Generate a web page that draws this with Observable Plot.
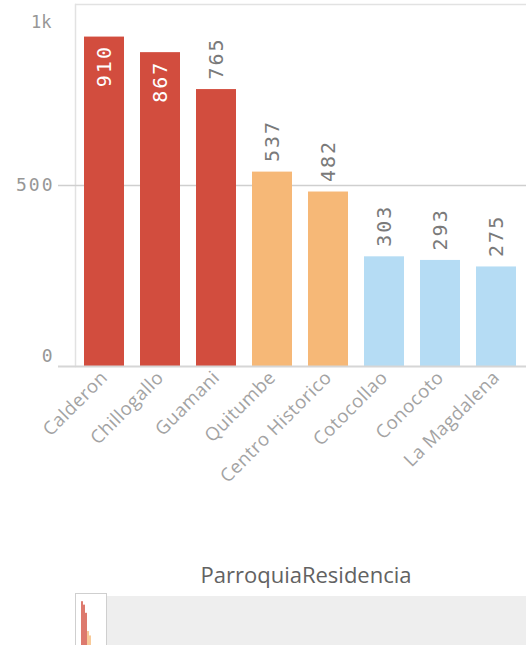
<!DOCTYPE html>
<html>
<head>
<meta charset="utf-8">
<script src="https://cdn.jsdelivr.net/npm/d3@7"></script>
<script src="https://cdn.jsdelivr.net/npm/@observablehq/plot@0.6"></script>
<style>
  html, body { margin: 0; padding: 0; background: #fff; }
  #wrap { position: relative; width: 526px; height: 645px; overflow: hidden; }
  #chart { position: absolute; left: 0; top: 0; }
  #title { position: absolute; left: 75px; width: 462px; top: 559px; text-align: center;
           font-family: "Open Sans", sans-serif; font-size: 22px; color: #626262; }
  #navbg { position: absolute; left: 107px; top: 596px; width: 419px; height: 60px; background: #eeeeee; }
  #navbox { position: absolute; left: 75px; top: 593px; width: 30px; height: 70px; border: 1px solid #cfcfcf; background: #fff; overflow: hidden; }
  #mini { position: absolute; left: 0; top: -4px; }
  #chart g[font-size="20"] text { letter-spacing: 2px; }
  #chart g[font-size="18"] text { letter-spacing: 2px; }
  #chart g[font-size="18.5"] text { letter-spacing: 0.5px; }
</style>
</head>
<body>
<div id="wrap">
  <div id="chart"></div>
  <div id="title">ParroquiaResidencia</div>
  <div id="navbg"></div>
  <div id="navbox"><div id="mini"></div></div>
</div>
<script>
const categories = ["Calderon", "Chillogallo", "Guamani", "Quitumbe", "Centro Historico", "Cotocollao", "Conocoto", "La Magdalena"];
const values = [910, 867, 765, 537, 482, 303, 293, 275];
const groups = ["high", "high", "high", "mid", "mid", "low", "low", "low"];
const groupColors = {high: "#d24d3e", mid: "#f6b877", low: "#b5dcf4"};
const yTicks = [0, 500, 1000];
const yTickLabels = ["0", "500", "1k"];

const data = categories.map((c, i) => ({cat: c, value: values[i], group: groups[i]}));
const ticks = yTicks.map((v, i) => ({v, label: yTickLabels[i]}));
const yMax = 1000;
const mono = "'DejaVu Sans Mono', monospace";
const tickFill = "#979797";

const chart = Plot.plot({
  width: 526,
  height: 550,
  marginLeft: 75,
  marginRight: 1,
  marginTop: 4,
  marginBottom: 184,
  style: {background: "transparent"},
  x: {domain: categories, paddingInner: 0.29, paddingOuter: 0.14, label: null},
  y: {domain: [0, yMax], label: null, axis: null},
  marks: [
    Plot.ruleY([yMax], {stroke: "#e2e2e2", strokeWidth: 1.5, insetRight: -2}),
    Plot.frame({anchor: "left", stroke: "#e2e2e2", strokeWidth: 1.5}),
    Plot.ruleY([500], {stroke: "#cfcfcf", strokeWidth: 1.5, insetLeft: -17, insetRight: -2}),
    Plot.barY(data, {x: "cat", y: "value", fill: d => groupColors[d.group]}),
    Plot.ruleY([0], {stroke: "#d6d6d6", strokeWidth: 2, insetLeft: -17, insetRight: -2}),
    // value labels inside bars (tall bars)
    Plot.text(data.filter(d => d.value > 0.8 * yMax), {
      x: "cat", y: "value", text: d => String(d.value), rotate: -90,
      textAnchor: "end", dy: 8, fill: "#ffffff", fontFamily: mono, fontSize: 20
    }),
    // value labels above bars
    Plot.text(data.filter(d => d.value <= 0.8 * yMax), {
      x: "cat", y: "value", text: d => String(d.value), rotate: -90,
      textAnchor: "start", dy: -10, fill: "#7a7a7a", fontFamily: mono, fontSize: 20
    }),
    // y tick labels
    Plot.text(ticks.filter(t => t.v === 0), {y: "v", text: "label", frameAnchor: "left", dx: -21, dy: -10, textAnchor: "end", fill: tickFill, fontFamily: mono, fontSize: 18}),
    Plot.text(ticks.filter(t => t.v > 0 && t.v < yMax), {y: "v", text: "label", frameAnchor: "left", dx: -21, textAnchor: "end", fill: tickFill, fontFamily: mono, fontSize: 18}),
    Plot.text(ticks.filter(t => t.v === yMax), {y: "v", text: "label", frameAnchor: "left", dx: -24, dy: 18, textAnchor: "end", fill: tickFill, fontFamily: mono, fontSize: 17}),
    Plot.axisX({tickSize: 0, tickPadding: 8, tickRotate: -45, fontSize: 18.5, fill: "#a3a3a3", fontFamily: "'Open Sans', sans-serif", label: null})
  ]
});
document.getElementById("chart").appendChild(chart);

const mini = Plot.plot({
  width: 30,
  height: 84,
  marginLeft: 2, marginRight: 6, marginTop: 4, marginBottom: 0,
  x: {domain: categories, axis: null, padding: 0},
  y: {domain: [0, yMax], axis: null},
  style: {background: "transparent"},
  marks: [
    Plot.barY(data, {x: "cat", y: "value", fill: d => groupColors[d.group], fillOpacity: 0.75})
  ]
});
document.getElementById("mini").appendChild(mini);
</script>
</body>
</html>
